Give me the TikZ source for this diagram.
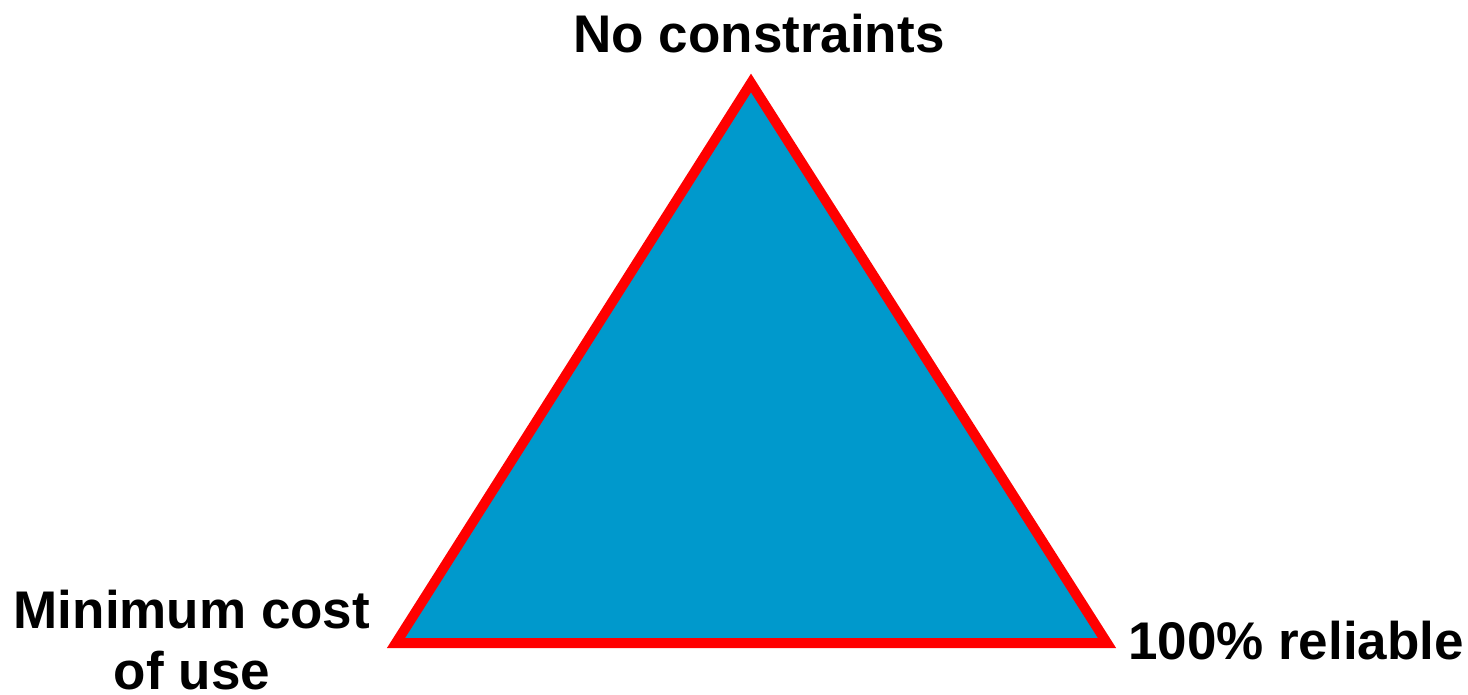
\documentclass[tikz,border=0pt]{standalone}
\usepackage{fontspec}
\setmainfont{Liberation Sans}
\definecolor{fillblue}{RGB}{0,153,204}
\definecolor{edgered}{RGB}{255,0,0}
\begin{document}
\begin{tikzpicture}[x=1pt,y=-1pt,
  lbl/.style={font=\bfseries\fontsize{53}{61}\selectfont, inner sep=0pt, text=black},
  tri/.style={fill=fillblue, draw=edgered, line width=10pt, line join=miter}]
\useasboundingbox (0,0) rectangle (1468,695);
\coordinate (top) at (751,83);
\coordinate (bl) at (396,643);
\coordinate (br) at (1107,643);
\draw[tri] (top) -- (br) -- (bl) -- cycle;
\node[lbl, anchor=base] (nc) at (759,53) {No constraints};
\node[lbl, anchor=base] (rel) at (1296,659) {100\% reliable};
\node[lbl, anchor=north, align=center] (mc) at (192,590) {Minimum cost\\of use};
\end{tikzpicture}
\end{document}
